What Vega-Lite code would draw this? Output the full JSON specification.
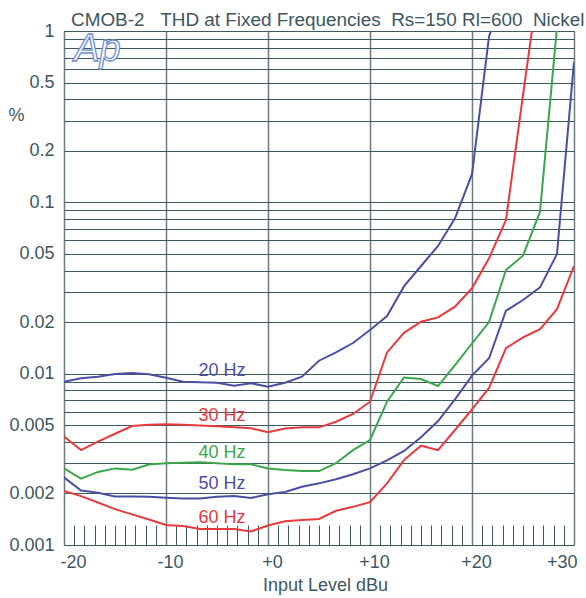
{
  "$schema": "https://vega.github.io/schema/vega-lite/v6.json",
  "width": 510,
  "height": 514,
  "autosize": "none",
  "padding": {"left": 64, "top": 31, "right": 12, "bottom": 53},
  "background": "white",
  "config": {
    "font": "Liberation Sans",
    "view": {"stroke": "#3f5960", "strokeWidth": 1}
  },
  "title": {
    "text": "CMOB-2\u00a0\u00a0\u00a0THD at Fixed Frequencies\u00a0\u00a0Rs=150 Rl=600\u00a0\u00a0Nickel",
    "anchor": "start",
    "frame": "group",
    "fontSize": 18.9,
    "fontWeight": "normal",
    "font": "Liberation Sans",
    "color": "#3e5660",
    "dx": 7,
    "offset": -8
  },
  "datasets": {
    "curves": [
      {"f": "20 Hz", "x": -20, "y": 0.00898}, {"f": "20 Hz", "x": -18.33, "y": 0.0094}, {"f": "20 Hz", "x": -16.67, "y": 0.0096}, {"f": "20 Hz", "x": -15, "y": 0.00995}, {"f": "20 Hz", "x": -13.33, "y": 0.0101}, {"f": "20 Hz", "x": -11.67, "y": 0.00991}, {"f": "20 Hz", "x": -10, "y": 0.00947}, {"f": "20 Hz", "x": -8.33, "y": 0.00898}, {"f": "20 Hz", "x": -6.67, "y": 0.0089}, {"f": "20 Hz", "x": -5, "y": 0.00886}, {"f": "20 Hz", "x": -3.33, "y": 0.00851}, {"f": "20 Hz", "x": -1.67, "y": 0.00879}, {"f": "20 Hz", "x": 0, "y": 0.00839}, {"f": "20 Hz", "x": 1.67, "y": 0.00886}, {"f": "20 Hz", "x": 3.33, "y": 0.0096}, {"f": "20 Hz", "x": 5, "y": 0.0119}, {"f": "20 Hz", "x": 6.67, "y": 0.0133}, {"f": "20 Hz", "x": 8.33, "y": 0.0151}, {"f": "20 Hz", "x": 10, "y": 0.018}, {"f": "20 Hz", "x": 11.67, "y": 0.0217}, {"f": "20 Hz", "x": 13.33, "y": 0.0323}, {"f": "20 Hz", "x": 15, "y": 0.0425}, {"f": "20 Hz", "x": 16.67, "y": 0.0556}, {"f": "20 Hz", "x": 18.33, "y": 0.0807}, {"f": "20 Hz", "x": 20, "y": 0.146}, {"f": "20 Hz", "x": 21.67, "y": 0.93}, {"f": "20 Hz", "x": 23.33, "y": 1.8},
      {"f": "30 Hz", "x": -20, "y": 0.0043}, {"f": "30 Hz", "x": -18.33, "y": 0.00358}, {"f": "30 Hz", "x": -16.67, "y": 0.00401}, {"f": "30 Hz", "x": -15, "y": 0.00446}, {"f": "30 Hz", "x": -13.33, "y": 0.00495}, {"f": "30 Hz", "x": -11.67, "y": 0.00504}, {"f": "30 Hz", "x": -10, "y": 0.00506}, {"f": "30 Hz", "x": -8.33, "y": 0.00504}, {"f": "30 Hz", "x": -6.67, "y": 0.00498}, {"f": "30 Hz", "x": -5, "y": 0.00494}, {"f": "30 Hz", "x": -3.33, "y": 0.00486}, {"f": "30 Hz", "x": -1.67, "y": 0.0048}, {"f": "30 Hz", "x": 0, "y": 0.00455}, {"f": "30 Hz", "x": 1.67, "y": 0.00479}, {"f": "30 Hz", "x": 3.33, "y": 0.00486}, {"f": "30 Hz", "x": 5, "y": 0.00486}, {"f": "30 Hz", "x": 6.67, "y": 0.00524}, {"f": "30 Hz", "x": 8.33, "y": 0.00582}, {"f": "30 Hz", "x": 10, "y": 0.00686}, {"f": "30 Hz", "x": 11.67, "y": 0.0133}, {"f": "30 Hz", "x": 13.33, "y": 0.0173}, {"f": "30 Hz", "x": 15, "y": 0.0201}, {"f": "30 Hz", "x": 16.67, "y": 0.0213}, {"f": "30 Hz", "x": 18.33, "y": 0.0246}, {"f": "30 Hz", "x": 20, "y": 0.0315}, {"f": "30 Hz", "x": 21.67, "y": 0.0471}, {"f": "30 Hz", "x": 23.33, "y": 0.0789}, {"f": "30 Hz", "x": 25, "y": 0.423}, {"f": "30 Hz", "x": 26.67, "y": 2.2},
      {"f": "40 Hz", "x": -20, "y": 0.0028}, {"f": "40 Hz", "x": -18.33, "y": 0.00244}, {"f": "40 Hz", "x": -16.67, "y": 0.00267}, {"f": "40 Hz", "x": -15, "y": 0.0028}, {"f": "40 Hz", "x": -13.33, "y": 0.00275}, {"f": "40 Hz", "x": -11.67, "y": 0.00295}, {"f": "40 Hz", "x": -10, "y": 0.003}, {"f": "40 Hz", "x": -8.33, "y": 0.00302}, {"f": "40 Hz", "x": -6.67, "y": 0.00304}, {"f": "40 Hz", "x": -5, "y": 0.003}, {"f": "40 Hz", "x": -3.33, "y": 0.00296}, {"f": "40 Hz", "x": -1.67, "y": 0.00296}, {"f": "40 Hz", "x": 0, "y": 0.0028}, {"f": "40 Hz", "x": 1.67, "y": 0.00274}, {"f": "40 Hz", "x": 3.33, "y": 0.0027}, {"f": "40 Hz", "x": 5, "y": 0.0027}, {"f": "40 Hz", "x": 6.67, "y": 0.003}, {"f": "40 Hz", "x": 8.33, "y": 0.00358}, {"f": "40 Hz", "x": 10, "y": 0.0041}, {"f": "40 Hz", "x": 11.67, "y": 0.00686}, {"f": "40 Hz", "x": 13.33, "y": 0.0095}, {"f": "40 Hz", "x": 15, "y": 0.00931}, {"f": "40 Hz", "x": 16.67, "y": 0.00847}, {"f": "40 Hz", "x": 18.33, "y": 0.0112}, {"f": "40 Hz", "x": 20, "y": 0.015}, {"f": "40 Hz", "x": 21.67, "y": 0.02}, {"f": "40 Hz", "x": 23.33, "y": 0.0403}, {"f": "40 Hz", "x": 25, "y": 0.0488}, {"f": "40 Hz", "x": 26.67, "y": 0.0882}, {"f": "40 Hz", "x": 28.33, "y": 1.05},
      {"f": "50 Hz", "x": -20, "y": 0.00248}, {"f": "50 Hz", "x": -18.33, "y": 0.00208}, {"f": "50 Hz", "x": -16.67, "y": 0.00202}, {"f": "50 Hz", "x": -15, "y": 0.00192}, {"f": "50 Hz", "x": -13.33, "y": 0.00192}, {"f": "50 Hz", "x": -11.67, "y": 0.00191}, {"f": "50 Hz", "x": -10, "y": 0.00189}, {"f": "50 Hz", "x": -8.33, "y": 0.00187}, {"f": "50 Hz", "x": -6.67, "y": 0.00187}, {"f": "50 Hz", "x": -5, "y": 0.00191}, {"f": "50 Hz", "x": -3.33, "y": 0.00193}, {"f": "50 Hz", "x": -1.67, "y": 0.00188}, {"f": "50 Hz", "x": 0, "y": 0.00198}, {"f": "50 Hz", "x": 1.67, "y": 0.00204}, {"f": "50 Hz", "x": 3.33, "y": 0.00219}, {"f": "50 Hz", "x": 5, "y": 0.00229}, {"f": "50 Hz", "x": 6.67, "y": 0.00242}, {"f": "50 Hz", "x": 8.33, "y": 0.00259}, {"f": "50 Hz", "x": 10, "y": 0.0028}, {"f": "50 Hz", "x": 11.67, "y": 0.00312}, {"f": "50 Hz", "x": 13.33, "y": 0.00354}, {"f": "50 Hz", "x": 15, "y": 0.00425}, {"f": "50 Hz", "x": 16.67, "y": 0.00529}, {"f": "50 Hz", "x": 18.33, "y": 0.00708}, {"f": "50 Hz", "x": 20, "y": 0.00975}, {"f": "50 Hz", "x": 21.67, "y": 0.0123}, {"f": "50 Hz", "x": 23.33, "y": 0.0233}, {"f": "50 Hz", "x": 25, "y": 0.0269}, {"f": "50 Hz", "x": 26.67, "y": 0.0319}, {"f": "50 Hz", "x": 28.33, "y": 0.0499}, {"f": "50 Hz", "x": 30, "y": 0.66},
      {"f": "60 Hz", "x": -20, "y": 0.00207}, {"f": "60 Hz", "x": -18.33, "y": 0.00193}, {"f": "60 Hz", "x": -16.67, "y": 0.00177}, {"f": "60 Hz", "x": -15, "y": 0.00162}, {"f": "60 Hz", "x": -13.33, "y": 0.00151}, {"f": "60 Hz", "x": -11.67, "y": 0.00141}, {"f": "60 Hz", "x": -10, "y": 0.00131}, {"f": "60 Hz", "x": -8.33, "y": 0.00129}, {"f": "60 Hz", "x": -6.67, "y": 0.00124}, {"f": "60 Hz", "x": -5, "y": 0.00124}, {"f": "60 Hz", "x": -3.33, "y": 0.00124}, {"f": "60 Hz", "x": -1.67, "y": 0.0012}, {"f": "60 Hz", "x": 0, "y": 0.0013}, {"f": "60 Hz", "x": 1.67, "y": 0.001375}, {"f": "60 Hz", "x": 3.33, "y": 0.0014}, {"f": "60 Hz", "x": 5, "y": 0.00142}, {"f": "60 Hz", "x": 6.67, "y": 0.001585}, {"f": "60 Hz", "x": 8.33, "y": 0.00167}, {"f": "60 Hz", "x": 10, "y": 0.00178}, {"f": "60 Hz", "x": 11.67, "y": 0.00229}, {"f": "60 Hz", "x": 13.33, "y": 0.00313}, {"f": "60 Hz", "x": 15, "y": 0.0038}, {"f": "60 Hz", "x": 16.67, "y": 0.00358}, {"f": "60 Hz", "x": 18.33, "y": 0.00469}, {"f": "60 Hz", "x": 20, "y": 0.00619}, {"f": "60 Hz", "x": 21.67, "y": 0.00825}, {"f": "60 Hz", "x": 23.33, "y": 0.0141}, {"f": "60 Hz", "x": 25, "y": 0.0163}, {"f": "60 Hz", "x": 26.67, "y": 0.0182}, {"f": "60 Hz", "x": 28.33, "y": 0.0238}, {"f": "60 Hz", "x": 30, "y": 0.0425}
    ],
    "labels": [
      {"f": "20 Hz", "x": -4.5, "y": 0.00969},
      {"f": "30 Hz", "x": -4.5, "y": 0.00529},
      {"f": "40 Hz", "x": -4.5, "y": 0.00323},
      {"f": "50 Hz", "x": -4.5, "y": 0.002114},
      {"f": "60 Hz", "x": -4.5, "y": 0.001339}
    ],
    "logo": [
      {"t": "Ap", "x": -19.0, "y": 0.668}
    ]
  },
  "encoding": {
    "x": {
      "field": "x",
      "type": "quantitative",
      "scale": {"domain": [-20, 30], "nice": false, "zero": false},
      "axis": {
        "values": [-20, -19, -18, -17, -16, -15, -14, -13, -12, -11, -10, -9, -8, -7, -6, -5, -4, -3, -2, -1, 0, 1, 2, 3, 4, 5, 6, 7, 8, 9, 10, 11, 12, 13, 14, 15, 16, 17, 18, 19, 20, 21, 22, 23, 24, 25, 26, 27, 28, 29, 30],
        "labelExpr": "datum.value % 10 !== 0 ? '' : (datum.value > 0 ? '+' + datum.value : (datum.value === 0 ? '+0' : '' + datum.value))",
        "labelOverlap": false,
        "labelFlush": true,
        "labelFontSize": 18,
        "labelColor": "#3e5660",
        "labelPadding": 28,
        "labelOffset": {"condition": [{"test": "datum.value === -20", "value": -4}, {"test": "datum.value === 30", "value": 3}], "value": 4},
        "grid": true,
        "gridColor": "#6a7e83",
        "gridWidth": 1.5,
        "gridOpacity": {"condition": {"test": "datum.value % 10 === 0", "value": 1}, "value": 0},
        "ticks": true,
        "tickSize": -20,
        "tickColor": "#3f5960",
        "tickWidth": 1,
        "tickOpacity": {"condition": {"test": "datum.value % 10 === 0", "value": 0}, "value": 1},
        "domain": false,
        "title": "Input Level dBu",
        "titleFontSize": 18,
        "titleFontWeight": "normal",
        "titleColor": "#3e5660",
        "titleX": 261,
        "titleY": 45,
        "titleAlign": "center",
        "titleBaseline": "alphabetic"
      }
    },
    "y": {
      "field": "y",
      "type": "quantitative",
      "scale": {"type": "log", "domain": [0.001, 1], "nice": false},
      "axis": {
        "values": [0.001, 0.002, 0.003, 0.004, 0.005, 0.006, 0.007, 0.008, 0.009, 0.01, 0.02, 0.03, 0.04, 0.05, 0.06, 0.07, 0.08, 0.09, 0.1, 0.2, 0.3, 0.4, 0.5, 0.6, 0.7, 0.8, 0.9, 1],
        "labelExpr": "indexof([0.001, 0.002, 0.005, 0.01, 0.02, 0.05, 0.1, 0.2, 0.5, 1], datum.value) >= 0 ? '' + datum.value : ''",
        "labelOverlap": false,
        "labelFlush": false,
        "labelFontSize": 18,
        "labelColor": "#3e5660",
        "labelPadding": 10,
        "labelBaseline": "middle",
        "grid": true,
        "gridColor": "#3f5960",
        "gridWidth": 1,
        "ticks": false,
        "domain": false,
        "title": "%",
        "titleAngle": 0,
        "titleFontSize": 18,
        "titleFontWeight": "normal",
        "titleColor": "#3e5660",
        "titleX": -48,
        "titleY": 84,
        "titleAlign": "center",
        "titleBaseline": "middle"
      }
    }
  },
  "layer": [
    {
      "data": {"name": "curves"},
      "mark": {"type": "line", "strokeWidth": 2, "clip": true},
      "encoding": {
        "color": {
          "field": "f",
          "type": "nominal",
          "scale": {"domain": ["20 Hz", "30 Hz", "40 Hz", "50 Hz", "60 Hz"], "range": ["#4b4fa3", "#e63a3c", "#3aa74a", "#4b4fa3", "#e63a3c"]},
          "legend": null
        }
      }
    },
    {
      "data": {"name": "labels"},
      "mark": {"type": "text", "fontSize": 18, "align": "center", "baseline": "alphabetic"},
      "encoding": {
        "text": {"field": "f"},
        "color": {"field": "f", "type": "nominal", "legend": null}
      }
    },
    {
      "data": {"name": "logo"},
      "mark": {"type": "text", "fontSize": 38, "fontStyle": "italic", "align": "left", "baseline": "alphabetic", "fill": "#ffffff", "stroke": "#6d8fd6", "strokeWidth": 1.3},
      "encoding": {
        "text": {"field": "t"}
      }
    }
  ]
}
